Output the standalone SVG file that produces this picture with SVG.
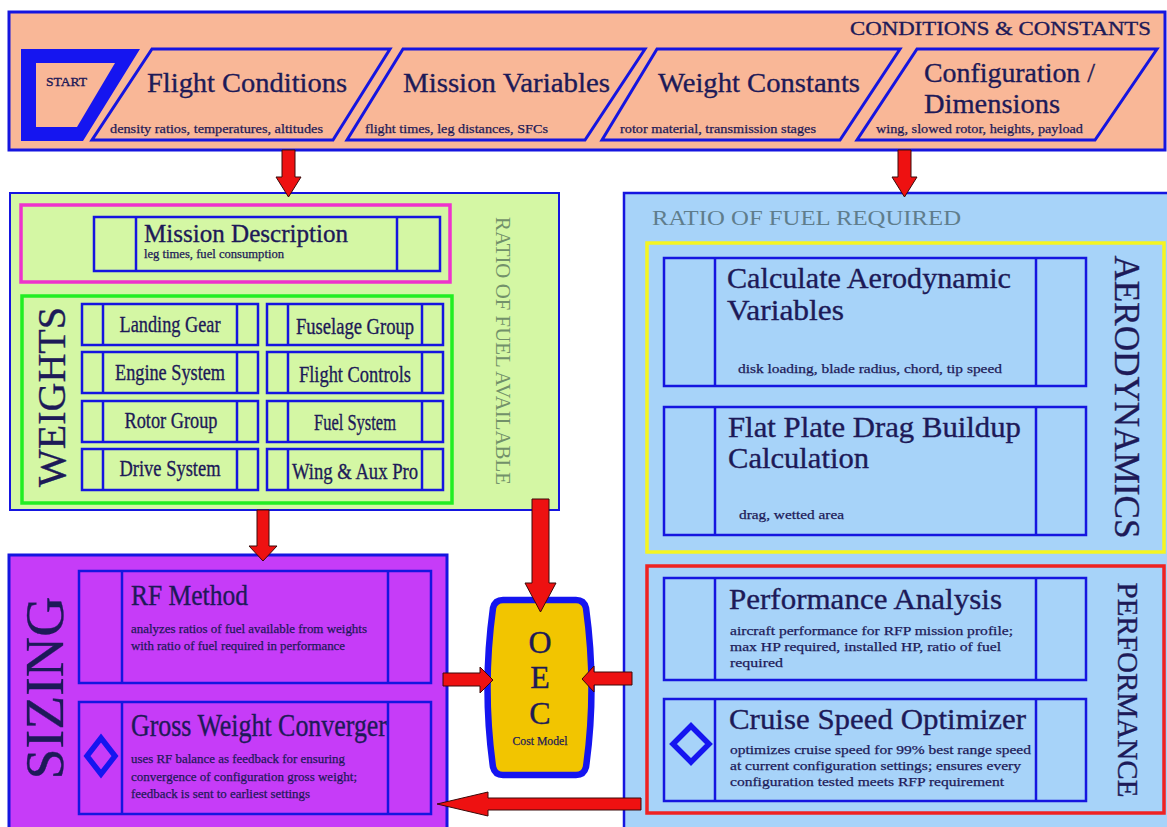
<svg xmlns="http://www.w3.org/2000/svg" width="1167" height="827" viewBox="0 0 1167 827">
<defs>
<style>
.t{font-family:'Liberation Serif','Times New Roman',serif;fill:#1d1a58;stroke:#1d1a58;stroke-width:0.35px}
.box{fill:none;stroke:#1515e0;stroke-width:2.5}
.para{fill:none;stroke:#1515e0;stroke-width:3}
.arrow{fill:#ee1111;stroke:#3a0a0a;stroke-width:1}
.diam{fill:none;stroke:#1515f0;stroke-width:5.5}
.title{font-size:28px}
.sub{font-size:13px;stroke-width:0.25px}
.wt{font-size:24px}
</style>
</defs>
<rect width="1167" height="827" fill="#ffffff"/>

<g id="banner">
<rect x="9" y="12" width="1156" height="138" fill="#f9b797" stroke="#1515e0" stroke-width="3"/>
<text class="t" x="850" y="35" font-size="19" textLength="301" lengthAdjust="spacingAndGlyphs">CONDITIONS &amp; CONSTANTS</text>
</g>

<g id="start">
<path d="M21,49 L140,49 L83,141 L21,141 Z M36,63 L36,127 L77,127 L115,63 Z" fill="#1515f0" fill-rule="evenodd"/>
<text class="t" x="46" y="86" font-size="13" textLength="41" lengthAdjust="spacingAndGlyphs">START</text>
</g>

<g id="flight-conditions">
<polygon class="para" points="152,49 390,49 333,140 92,140"/>
<text class="t title" x="147" y="92" textLength="200" lengthAdjust="spacingAndGlyphs">Flight Conditions</text>
<text class="t sub" x="110" y="133" textLength="213" lengthAdjust="spacingAndGlyphs">density ratios, temperatures, altitudes</text>
</g>

<g id="mission-variables">
<polygon class="para" points="403,49 645,49 585,140 347,140"/>
<text class="t title" x="403" y="92" textLength="207" lengthAdjust="spacingAndGlyphs">Mission Variables</text>
<text class="t sub" x="365" y="133" textLength="183" lengthAdjust="spacingAndGlyphs">flight times, leg distances, SFCs</text>
</g>

<g id="weight-constants">
<polygon class="para" points="657,49 900,49 840,140 602,140"/>
<text class="t title" x="658" y="92" textLength="202" lengthAdjust="spacingAndGlyphs">Weight Constants</text>
<text class="t sub" x="620" y="133" textLength="196" lengthAdjust="spacingAndGlyphs">rotor material, transmission stages</text>
</g>

<g id="configuration-dimensions">
<polygon class="para" points="917,49 1157,49 1095,140 857,140"/>
<text class="t title" x="924" y="82" textLength="171" lengthAdjust="spacingAndGlyphs">Configuration /</text>
<text class="t title" x="924" y="113" textLength="136" lengthAdjust="spacingAndGlyphs">Dimensions</text>
<text class="t sub" x="876" y="133" textLength="207" lengthAdjust="spacingAndGlyphs">wing, slowed rotor, heights, payload</text>
</g>

<g id="fuel-available">
<rect x="10" y="193" width="549" height="317" fill="#d4f7a4" stroke="#1515e0" stroke-width="2"/>
<text class="t" transform="translate(496,351) rotate(90)" text-anchor="middle" font-size="20" style="fill:#72916a;stroke:none" textLength="268" lengthAdjust="spacingAndGlyphs">RATIO OF FUEL AVAILABLE</text>
</g>

<g id="mission-description">
<rect x="21" y="205" width="429" height="77" fill="none" stroke="#ee33cc" stroke-width="3.5"/>
<rect class="box" x="94" y="217" width="346" height="54"/>
<line class="box" x1="136" y1="217" x2="136" y2="271"/>
<line class="box" x1="397" y1="217" x2="397" y2="271"/>
<text class="t" x="144" y="242" font-size="25" textLength="204" lengthAdjust="spacingAndGlyphs">Mission Description</text>
<text class="t sub" x="144" y="258" font-size="11.5" style="font-size:11.5px" textLength="140" lengthAdjust="spacingAndGlyphs">leg times, fuel consumption</text>
</g>

<g id="weights">
<rect x="22" y="296" width="430" height="207" fill="none" stroke="#22ee22" stroke-width="3.5"/>
<text class="t" transform="translate(65,397) rotate(-90)" text-anchor="middle" font-size="40" textLength="180" lengthAdjust="spacingAndGlyphs">WEIGHTS</text>
</g>

<g id="landing-gear">
<rect class="box" x="82" y="304" width="176" height="41"/>
<line class="box" x1="103" y1="304" x2="103" y2="345"/><line class="box" x1="237" y1="304" x2="237" y2="345"/>
<text class="t wt" x="170" y="332" text-anchor="middle" textLength="101" lengthAdjust="spacingAndGlyphs">Landing Gear</text>
</g>
<g id="engine-system">
<rect class="box" x="82" y="352" width="176" height="41"/>
<line class="box" x1="103" y1="352" x2="103" y2="393"/><line class="box" x1="237" y1="352" x2="237" y2="393"/>
<text class="t wt" x="170" y="380" text-anchor="middle" textLength="110" lengthAdjust="spacingAndGlyphs">Engine System</text>
</g>
<g id="rotor-group">
<rect class="box" x="82" y="401" width="176" height="41"/>
<line class="box" x1="103" y1="401" x2="103" y2="442"/><line class="box" x1="237" y1="401" x2="237" y2="442"/>
<text class="t wt" x="171" y="428" text-anchor="middle" textLength="93" lengthAdjust="spacingAndGlyphs">Rotor Group</text>
</g>
<g id="drive-system">
<rect class="box" x="82" y="449" width="176" height="41"/>
<line class="box" x1="103" y1="449" x2="103" y2="490"/><line class="box" x1="237" y1="449" x2="237" y2="490"/>
<text class="t wt" x="170" y="476" text-anchor="middle" textLength="101" lengthAdjust="spacingAndGlyphs">Drive System</text>
</g>
<g id="fuselage-group">
<rect class="box" x="267" y="304" width="176" height="41"/>
<line class="box" x1="288" y1="304" x2="288" y2="345"/><line class="box" x1="422" y1="304" x2="422" y2="345"/>
<text class="t wt" x="355" y="334" text-anchor="middle" textLength="118" lengthAdjust="spacingAndGlyphs">Fuselage Group</text>
</g>
<g id="flight-controls">
<rect class="box" x="267" y="352" width="176" height="41"/>
<line class="box" x1="288" y1="352" x2="288" y2="393"/><line class="box" x1="422" y1="352" x2="422" y2="393"/>
<text class="t wt" x="355" y="382" text-anchor="middle" textLength="112" lengthAdjust="spacingAndGlyphs">Flight Controls</text>
</g>
<g id="fuel-system">
<rect class="box" x="267" y="401" width="176" height="41"/>
<line class="box" x1="288" y1="401" x2="288" y2="442"/><line class="box" x1="422" y1="401" x2="422" y2="442"/>
<text class="t wt" x="355" y="430" text-anchor="middle" textLength="82" lengthAdjust="spacingAndGlyphs">Fuel System</text>
</g>
<g id="wing-aux-pro">
<rect class="box" x="267" y="449" width="176" height="41"/>
<line class="box" x1="288" y1="449" x2="288" y2="490"/><line class="box" x1="422" y1="449" x2="422" y2="490"/>
<text class="t wt" x="355" y="479" text-anchor="middle" textLength="126" lengthAdjust="spacingAndGlyphs">Wing &amp; Aux Pro</text>
</g>

<g id="fuel-required">
<rect x="624" y="193" width="550" height="640" fill="#a7d3f9" stroke="#1515e0" stroke-width="2.5"/>
<text class="t" x="652" y="225" font-size="21" style="fill:#5f7d8c;stroke:none" textLength="309" lengthAdjust="spacingAndGlyphs">RATIO OF FUEL REQUIRED</text>
</g>

<g id="aerodynamics">
<rect x="647" y="243" width="517" height="309" fill="none" stroke="#f5f520" stroke-width="3.5"/>
<text class="t" transform="translate(1115,397) rotate(90)" text-anchor="middle" font-size="35" textLength="283" lengthAdjust="spacingAndGlyphs">AERODYNAMICS</text>
</g>

<g id="calc-aero">
<rect class="box" x="664" y="258" width="422" height="128"/>
<line class="box" x1="715" y1="258" x2="715" y2="386"/><line class="box" x1="1036" y1="258" x2="1036" y2="386"/>
<text class="t" x="727" y="288" font-size="29" textLength="284" lengthAdjust="spacingAndGlyphs">Calculate Aerodynamic</text>
<text class="t" x="727" y="320" font-size="29" textLength="117" lengthAdjust="spacingAndGlyphs">Variables</text>
<text class="t sub" x="738" y="373" textLength="264" lengthAdjust="spacingAndGlyphs">disk loading, blade radius, chord, tip speed</text>
</g>

<g id="flat-plate">
<rect class="box" x="664" y="407" width="422" height="128"/>
<line class="box" x1="715" y1="407" x2="715" y2="535"/><line class="box" x1="1036" y1="407" x2="1036" y2="535"/>
<text class="t" x="728" y="437" font-size="29" textLength="293" lengthAdjust="spacingAndGlyphs">Flat Plate Drag Buildup</text>
<text class="t" x="728" y="468" font-size="29" textLength="141" lengthAdjust="spacingAndGlyphs">Calculation</text>
<text class="t sub" x="739" y="519" textLength="105" lengthAdjust="spacingAndGlyphs">drag, wetted area</text>
</g>

<g id="performance">
<rect x="647" y="566" width="517" height="247" fill="none" stroke="#ee2222" stroke-width="3.5"/>
<text class="t" transform="translate(1118,690) rotate(90)" text-anchor="middle" font-size="29" textLength="215" lengthAdjust="spacingAndGlyphs">PERFORMANCE</text>
</g>

<g id="performance-analysis">
<rect class="box" x="664" y="578" width="422" height="102"/>
<line class="box" x1="715" y1="578" x2="715" y2="680"/><line class="box" x1="1036" y1="578" x2="1036" y2="680"/>
<text class="t" x="729" y="609" font-size="29" textLength="273" lengthAdjust="spacingAndGlyphs">Performance Analysis</text>
<text class="t sub" x="730" y="635" textLength="283" lengthAdjust="spacingAndGlyphs">aircraft performance for RFP mission profile;</text>
<text class="t sub" x="730" y="651" textLength="271" lengthAdjust="spacingAndGlyphs">max HP required, installed HP, ratio of fuel</text>
<text class="t sub" x="730" y="667" textLength="53" lengthAdjust="spacingAndGlyphs">required</text>
</g>

<g id="cruise-speed-optimizer">
<rect class="box" x="664" y="699" width="422" height="102"/>
<line class="box" x1="715" y1="699" x2="715" y2="801"/><line class="box" x1="1036" y1="699" x2="1036" y2="801"/>
<polygon class="diam" points="691,726 709,744 691,762 673,744"/>
<text class="t" x="729" y="729" font-size="29" textLength="297" lengthAdjust="spacingAndGlyphs">Cruise Speed Optimizer</text>
<text class="t sub" x="730" y="754" textLength="301" lengthAdjust="spacingAndGlyphs">optimizes cruise speed for 99% best range speed</text>
<text class="t sub" x="730" y="770" textLength="291" lengthAdjust="spacingAndGlyphs">at current configuration settings; ensures every</text>
<text class="t sub" x="730" y="786" textLength="274" lengthAdjust="spacingAndGlyphs">configuration tested meets RFP requirement</text>
</g>

<g id="sizing">
<rect x="9" y="555" width="438" height="280" fill="#c63cf8" stroke="#1515e0" stroke-width="3"/>
<text class="t" transform="translate(63,688) rotate(-90)" text-anchor="middle" font-size="55" textLength="183" lengthAdjust="spacingAndGlyphs">SIZING</text>
</g>

<g id="rf-method">
<rect class="box" x="79" y="571" width="352" height="112"/>
<line class="box" x1="122" y1="571" x2="122" y2="683"/><line class="box" x1="388" y1="571" x2="388" y2="683"/>
<text class="t" x="131" y="605" font-size="30" textLength="117" lengthAdjust="spacingAndGlyphs">RF Method</text>
<text class="t sub" x="131" y="633" textLength="236" lengthAdjust="spacingAndGlyphs">analyzes ratios of fuel available from weights</text>
<text class="t sub" x="131" y="650" textLength="214" lengthAdjust="spacingAndGlyphs">with ratio of fuel required in performance</text>
</g>

<g id="gross-weight-converger">
<rect class="box" x="79" y="702" width="352" height="112"/>
<line class="box" x1="122" y1="702" x2="122" y2="814"/><line class="box" x1="388" y1="702" x2="388" y2="814"/>
<polygon class="diam" points="101,738 115,756 101,774 87,756"/>
<text class="t" x="131" y="736" font-size="31" textLength="256" lengthAdjust="spacingAndGlyphs">Gross Weight Converger</text>
<text class="t sub" x="131" y="763" textLength="214" lengthAdjust="spacingAndGlyphs">uses RF balance as feedback for ensuring</text>
<text class="t sub" x="131" y="781" textLength="226" lengthAdjust="spacingAndGlyphs">convergence of configuration gross weight;</text>
<text class="t sub" x="131" y="798" textLength="179" lengthAdjust="spacingAndGlyphs">feedback is sent to earliest settings</text>
</g>

<g id="oec">
<path d="M503,600 L576,600 Q584,600 586,608 Q597,688 586,767 Q584,775 576,775 L503,775 Q495,775 493,767 Q482,688 493,608 Q495,600 503,600 Z" fill="#f2c500" stroke="#1515f0" stroke-width="6.5"/>
<text class="t" x="540" y="653" font-size="32" text-anchor="middle">O</text>
<text class="t" x="540" y="688" font-size="32" text-anchor="middle">E</text>
<text class="t" x="540" y="724" font-size="32" text-anchor="middle">C</text>
<text class="t sub" x="540" y="745" text-anchor="middle" textLength="55" lengthAdjust="spacingAndGlyphs">Cost Model</text>
</g>

<g id="connectors">
<polygon class="arrow" points="282,150 295,150 295,177 301,177 288.5,197 276,177 282,177"/>
<polygon class="arrow" points="898,150 911,150 911,177 917,177 904.5,197 892,177 898,177"/>
<polygon class="arrow" points="257,510 269,510 269,546 277,546 263,561 249,546 257,546"/>
<polygon class="arrow" points="532,499 549,499 549,583 556,583 540.5,612 525,583 532,583"/>
<polygon class="arrow" points="443,673 480,673 480,667 493,680 480,693 480,686 443,686"/>
<polygon class="arrow" points="632,672 594,672 594,666 582,679 594,692 594,685 632,685"/>
<polygon class="arrow" points="641,798 488,798 488,792 437,804 488,816 488,810 641,810"/>
</g>
</svg>
